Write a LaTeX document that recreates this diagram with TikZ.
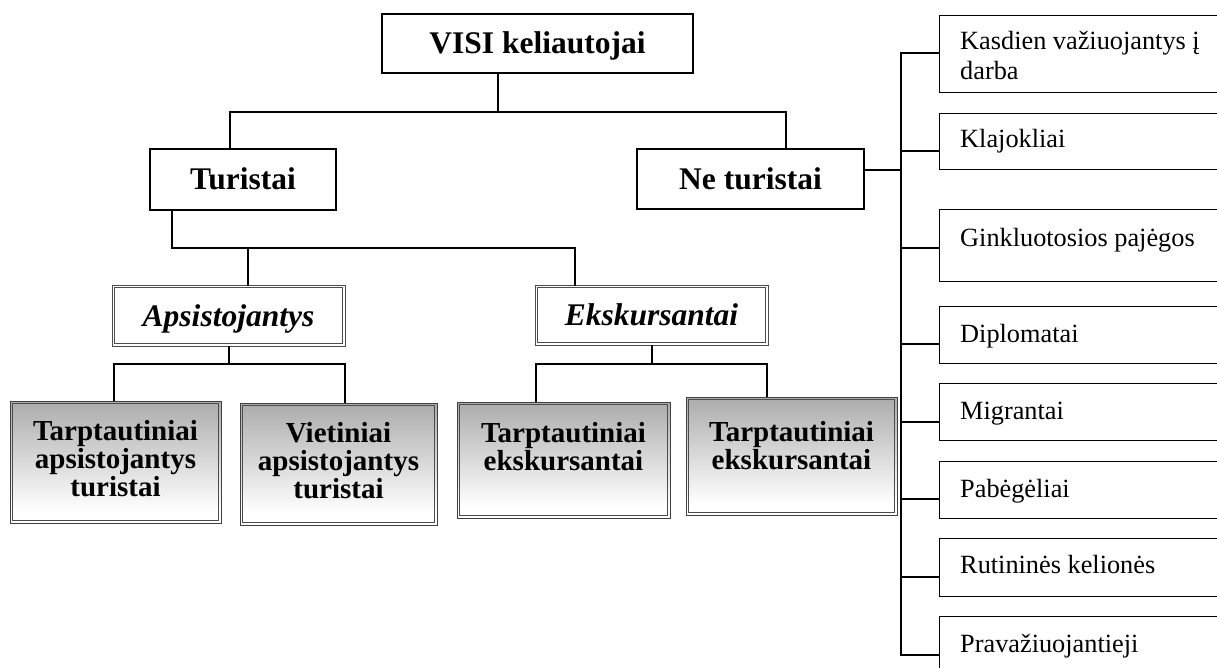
\documentclass[tikz,border=0pt]{standalone}
\usepackage{fontspec}
\setmainfont{Liberation Serif}
\definecolor{shA}{RGB}{125,125,125}
\pgfdeclareverticalshading{gshade}{100bp}{color(0bp)=(shA); color(22bp)=(white); color(30bp)=(white); color(100bp)=(shA)}
\begin{document}
\begin{tikzpicture}[x=1pt,y=-1pt,
  hbox/.style={draw, line width=2.6pt, inner sep=0pt, text height=21pt, text depth=0pt,
    font=\fontsize{31.5}{36}\selectfont\bfseries},
  ibox/.style={draw=black!70, line width=0.8pt, fill=white,
    inner sep=0pt, text height=21pt, text depth=0pt,
    font=\fontsize{31.5}{36}\selectfont\bfseries\itshape},
  gbox/.style={draw=black!75, line width=0.9pt, inner sep=0pt, shading=gshade, shade},
  inner/.style={draw=black!70, line width=0.8pt},
  gtext/.style={anchor=base, inner sep=0pt, font=\fontsize{29}{27}\selectfont\bfseries},
  rbox/.style={draw, line width=1.2pt, anchor=north west, inner sep=0pt, minimum width=330pt},
  rtext/.style={anchor=base west, inner sep=0pt, font=\fontsize{26.3}{30}\selectfont},
  conn/.style={line width=1.8pt, line cap=rect}
]
\clip (0,0) rectangle (1217,668);
\fill[white] (0,0) rectangle (1217,668);

% main boxes
\node[hbox, minimum width=311pt, minimum height=59pt] (v) at (537.5,43.5) {VISI keliautojai};
\node[hbox, minimum width=186pt, minimum height=61pt] (t) at (243,179.5) {Turistai};
\node[hbox, minimum width=227pt, minimum height=60pt] (nt) at (750.5,179) {Ne turistai};
\node[ibox, minimum width=233pt, minimum height=61pt] (ap) at (228.5,315.5) {Apsistojantys};
\node[ibox, minimum width=233pt, minimum height=60pt] (ek) at (651.5,315) {Ekskursantai};

% shaded boxes
\node[gbox, minimum width=211pt, minimum height=122pt] (b1) at (115.5,462) {};
\node[gbox, minimum width=197pt, minimum height=122pt] (b2) at (338.5,464) {};
\node[gbox, minimum width=213pt, minimum height=116pt] (b3) at (563.5,460) {};
\node[gbox, minimum width=211pt, minimum height=118pt] (b4) at (791.5,456) {};

% inner lines of the double borders
\foreach \n in {ap,ek,b1,b2,b3,b4}
  \draw[inner] ([shift={(2.6pt,-2.6pt)}]\n.north west) rectangle ([shift={(-2.6pt,2.6pt)}]\n.south east);

\node[gtext] (b1t) at ([yshift=-40pt]b1.north) {\begin{tabular}[t]{@{}c@{}}Tarptautiniai\\apsistojantys\\turistai\end{tabular}};
\node[gtext] (b2t) at ([yshift=-40pt]b2.north) {\begin{tabular}[t]{@{}c@{}}Vietiniai\\apsistojantys\\turistai\end{tabular}};
\node[gtext] (b3t) at ([yshift=-41pt]b3.north) {\begin{tabular}[t]{@{}c@{}}Tarptautiniai\\ekskursantai\end{tabular}};
\node[gtext] (b4t) at ([yshift=-45pt]b4.north) {\begin{tabular}[t]{@{}c@{}}Tarptautiniai\\ekskursantai\end{tabular}};

% right boxes
\node[rbox, minimum height=77pt] (r1) at (939,15) {};
\node[rbox, minimum height=56pt] (r2) at (939,113) {};
\node[rbox, minimum height=72pt] (r3) at (939,209) {};
\node[rbox, minimum height=57pt] (r4) at (939,306) {};
\node[rbox, minimum height=57pt] (r5) at (939,383) {};
\node[rbox, minimum height=57pt] (r6) at (939,461) {};
\node[rbox, minimum height=58pt] (r7) at (939,538) {};
\node[rbox, minimum height=80pt] (r8) at (939,616) {};
\node[rtext] (r1t) at ([xshift=21pt,yshift=-35pt]r1.north west) {\begin{tabular}[t]{@{}l@{}}Kasdien važiuojantys į\\darba\end{tabular}};
\node[rtext] (r2t) at ([xshift=21pt,yshift=-35pt]r2.north west) {Klajokliai};
\node[rtext] (r3t) at ([xshift=21pt,yshift=-38pt]r3.north west) {Ginkluotosios pajėgos};
\node[rtext] (r4t) at ([xshift=21pt,yshift=-36pt]r4.north west) {Diplomatai};
\node[rtext] (r5t) at ([xshift=21pt,yshift=-36pt]r5.north west) {Migrantai};
\node[rtext] (r6t) at ([xshift=21pt,yshift=-36pt]r6.north west) {Pabėgėliai};
\node[rtext] (r7t) at ([xshift=21pt,yshift=-35pt]r7.north west) {Rutininės kelionės};
\node[rtext] (r8t) at ([xshift=21pt,yshift=-36pt]r8.north west) {Pravažiuojantieji};

% junction coordinates
\coordinate (j0) at (498,112);
\coordinate (jL) at (230,112);
\coordinate (jR) at (786,112);
\coordinate (k0) at (172,248);
\coordinate (kA) at (248,248);
\coordinate (kE) at (575,248);
\coordinate (a0) at (229,364);
\coordinate (aL) at (114,364);
\coordinate (aR) at (345,364);
\coordinate (e0) at (652,364);
\coordinate (eL) at (536,364);
\coordinate (eR) at (767,364);
\coordinate (s0) at (901,170);
\coordinate (sT) at (901,53);
\coordinate (sB) at (901,655);
\coordinate (q1) at (901,53);
\coordinate (q2) at (901,151);
\coordinate (q3) at (901,248);
\coordinate (q4) at (901,344);
\coordinate (q5) at (901,422);
\coordinate (q6) at (901,499);
\coordinate (q7) at (901,577);
\coordinate (q8) at (901,655);

% connectors
\draw[conn] (v.south -| j0) -- (j0);
\draw[conn] (t.north -| jL) -- (jL) -- (jR) -- (nt.north -| jR);
\draw[conn] (t.south -| k0) -- (k0) -- (kE) -- (ek.north -| kE);
\draw[conn] (kA) -- (ap.north -| kA);
\draw[conn] (ap.south -| a0) -- (a0);
\draw[conn] (b1.north -| aL) -- (aL) -- (aR) -- (b2.north -| aR);
\draw[conn] (ek.south -| e0) -- (e0);
\draw[conn] (b3.north -| eL) -- (eL) -- (eR) -- (b4.north -| eR);
\draw[conn] (nt.east |- s0) -- (s0);
\draw[conn] (sT) -- (sB);
\draw[conn] (q1) -- (q1 -| r1.west);
\draw[conn] (q2) -- (q2 -| r2.west);
\draw[conn] (q3) -- (q3 -| r3.west);
\draw[conn] (q4) -- (q4 -| r4.west);
\draw[conn] (q5) -- (q5 -| r5.west);
\draw[conn] (q6) -- (q6 -| r6.west);
\draw[conn] (q7) -- (q7 -| r7.west);
\draw[conn] (q8) -- (q8 -| r8.west);
\end{tikzpicture}
\end{document}
